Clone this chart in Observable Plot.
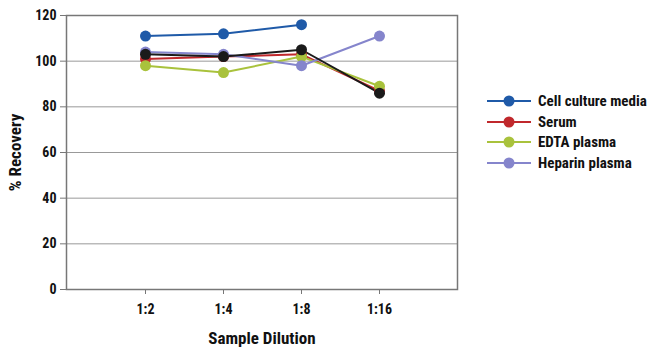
<!DOCTYPE html>
<html>
<head>
<meta charset="utf-8">
<script src="https://cdn.jsdelivr.net/npm/d3@7"></script>
<script src="https://cdn.jsdelivr.net/npm/@observablehq/plot@0.6"></script>
<style>
  html, body { margin: 0; padding: 0; background: #fff; }
  #wrap { position: relative; width: 650px; height: 358px; font-family: "Liberation Sans Narrow", "Roboto Condensed", "DejaVu Sans Condensed", sans-serif; font-weight: bold; }
  #legend { position: absolute; left: 487px; top: 91px; }
  .row { display: flex; align-items: center; height: 20.5px; font-size: 15px; color: #111; }
  .row svg { margin-right: 7px; }
</style>
</head>
<body>
<div id="wrap"><div id="legend"></div></div>
<script>
const dilutions = ["1:2", "1:4", "1:8", "1:16"];
const seriesNames = ["Cell culture media", "Serum", "EDTA plasma", "Heparin plasma", "Unlabeled"];
const cellCultureMedia = [111, 112, 116, null];
const serum = [101, 102, 103, 87];
const edtaPlasma = [98, 95, 102, 89];
const heparinPlasma = [104, 103, 98, 111];
const unlabeled = [103, 102, 105, 86];
const colors = ["#1f5aa8", "#c0282c", "#a9c23c", "#8585cc", "#1a1a1a"];
const legendNames = ["Cell culture media", "Serum", "EDTA plasma", "Heparin plasma"];
const yTicks = [0, 20, 40, 60, 80, 100, 120];
const yLabel = ["% Recovery"];
const xLabel = ["Sample Dilution"];

const allValues = [cellCultureMedia, serum, edtaPlasma, heparinPlasma, unlabeled];
const data = [];
seriesNames.forEach((s, i) => {
  dilutions.forEach((d, j) => {
    const v = allValues[i][j];
    if (v != null) data.push({series: s, dilution: d, value: v});
  });
});

const font = '"Liberation Sans Narrow", "Roboto Condensed", "DejaVu Sans Condensed", sans-serif';

const chart = Plot.plot({
  width: 650,
  height: 358,
  marginLeft: 66,
  marginRight: 193,
  marginTop: 15,
  marginBottom: 69,
  style: {fontFamily: font, fontWeight: "bold", fontSize: "14px", color: "#111", background: "#fff"},
  x: {type: "point", domain: dilutions, padding: 1},
  y: {domain: [0, 120]},
  color: {domain: seriesNames, range: colors},
  marks: [
    Plot.gridY(yTicks, {stroke: "#999", strokeOpacity: 1, strokeWidth: 1}),
    Plot.frame({stroke: "#777", strokeWidth: 1.5}),
    Plot.axisY(yTicks, {tickSize: 6, tickPadding: 4, stroke: "#777", fontSize: 14, label: null}),
    Plot.axisX({tickSize: 5, tickPadding: 10, stroke: "#777", fontSize: 14, label: null}),
    Plot.text(yLabel, {text: d => d, frameAnchor: "left", dx: -51, rotate: -90, textAnchor: "middle", lineAnchor: "middle", fontSize: 17, fill: "#111"}),
    Plot.text(xLabel, {text: d => d, frameAnchor: "bottom", dy: 49, textAnchor: "middle", lineAnchor: "middle", fontSize: 17, fill: "#111"}),
    Plot.line(data, {x: "dilution", y: "value", z: "series", stroke: "series", strokeWidth: 2}),
    Plot.dot(data, {x: "dilution", y: "value", fill: "series", r: 5.5})
  ]
});
document.getElementById("wrap").prepend(chart);
chart.style.position = "absolute"; chart.style.left = "0"; chart.style.top = "0";

const legend = d3.select("#legend");
legendNames.forEach((name, i) => {
  const row = legend.append("div").attr("class", "row");
  const svg = row.append("svg").attr("width", 44).attr("height", 14);
  svg.append("line").attr("x1", 0).attr("x2", 44).attr("y1", 7).attr("y2", 7).attr("stroke", colors[i]).attr("stroke-width", 2);
  svg.append("circle").attr("cx", 22).attr("cy", 7).attr("r", 5.5).attr("fill", colors[i]);
  row.append("span").text(name);
});
</script>
</body>
</html>
